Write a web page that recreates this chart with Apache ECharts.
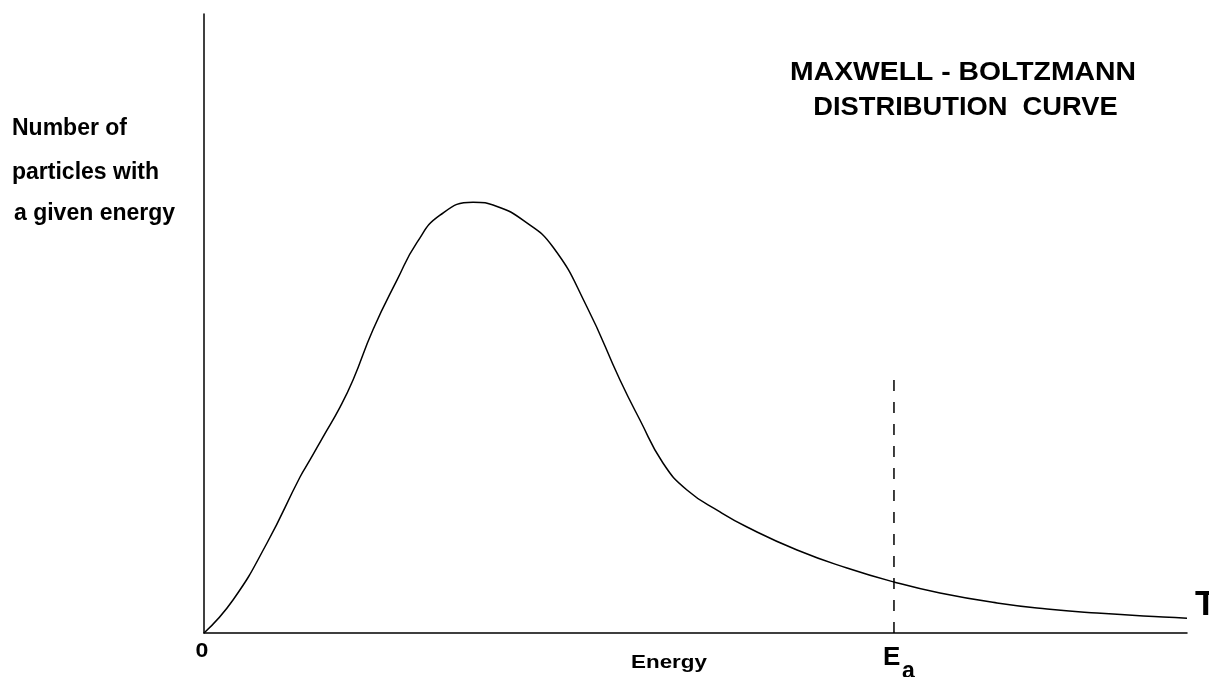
<!DOCTYPE html>
<html>
<head>
<meta charset="utf-8">
<script src="https://cdn.jsdelivr.net/npm/echarts@6/dist/echarts.min.js"></script>
<style>html,body{margin:0;padding:0;background:#fff}#c{width:1209px;height:677px}</style>
</head>
<body>
<div id="c"></div>
<script>
// Energy (x) and number of particles (y) (arbitrary units 0..100)
const energy = [0, 2.95, 6.41, 9.77, 10.78, 12.1, 13.84, 15.16, 17.19, 19.63, 21.67, 24.01, 27.37, 29.81, 32.45, 35.5, 38.96, 42.32, 44.35, 46.69, 49.13, 52.49, 55.24, 60.33, 65.41, 70.19, 74.87, 80.67, 85.76, 90.84, 97.56, 100];
const particles = [0, 5.33, 14.54, 25.2, 27.95, 31.66, 36.5, 40.87, 49.0, 57.0, 63.1, 67.5, 69.6, 68.9, 66.7, 62.36, 52.67, 40.87, 34.41, 27.46, 23.1, 19.55, 17.12, 13.41, 10.5, 8.24, 6.46, 4.85, 3.88, 3.23, 2.58, 2.4];
const eaX = [70.19, 70.19];
const eaY = [0, 40.87];

const F = 'Liberation Sans, Arial, Helvetica, sans-serif';
const chart = echarts.init(document.getElementById('c'), null, {renderer: 'canvas'});
chart.setOption({
  animation: false,
  backgroundColor: '#fff',
  grid: {left: 204, right: 22, top: 14, bottom: 44},
  xAxis: {type: 'value', min: 0, max: 100,
    axisLine: {show: true, onZero: false, lineStyle: {color: '#000', width: 1.5}},
    axisTick: {show: false}, axisLabel: {show: false}, splitLine: {show: false}},
  yAxis: {type: 'value', min: 0, max: 100,
    axisLine: {show: true, onZero: false, lineStyle: {color: '#000', width: 1.5}},
    axisTick: {show: false}, axisLabel: {show: false}, splitLine: {show: false}},
  series: [
    {type: 'line', data: energy.map((x, i) => [x, particles[i]]), smooth: 0.5, showSymbol: false,
      lineStyle: {color: '#000', width: 1.5}},
    {type: 'line', data: eaX.map((x, i) => [x, eaY[i]]), showSymbol: false,
      lineStyle: {color: '#000', width: 1.5, type: [11, 11]}}
  ],
  graphic: [
    {type: 'text', x: 12, y: 140.5, style: {text: 'Number of', font: 'bold 23px ' + F, fill: '#000', verticalAlign: 'bottom'}},
    {type: 'text', x: 12, y: 184.6, style: {text: 'particles with', font: 'bold 23px ' + F, fill: '#000', verticalAlign: 'bottom'}},
    {type: 'text', x: 14, y: 224.8, style: {text: 'a given energy', font: 'bold 23px ' + F, fill: '#000', verticalAlign: 'bottom'}},
    {type: 'text', x: 963, y: 73, scaleX: 1.09, style: {text: 'MAXWELL - BOLTZMANN', font: 'bold 26px ' + F, fill: '#000', align: 'center', verticalAlign: 'middle'}},
    {type: 'text', x: 965.5, y: 108, scaleX: 1.05, style: {text: 'DISTRIBUTION  CURVE', font: 'bold 26px ' + F, fill: '#000', align: 'center', verticalAlign: 'middle'}},
    {type: 'text', x: 202, y: 651, scaleX: 1.1, style: {text: '0', font: 'bold 21px ' + F, fill: '#000', align: 'center', verticalAlign: 'middle'}},
    {type: 'text', x: 669, y: 662.5, scaleX: 1.18, style: {text: 'Energy', font: 'bold 19px ' + F, fill: '#000', align: 'center', verticalAlign: 'middle'}},
    {type: 'text', x: 883, y: 658, style: {text: 'E', font: 'bold 26px ' + F, fill: '#000', verticalAlign: 'middle'}},
    {type: 'text', x: 902, y: 672, style: {text: 'a', font: 'bold 23px ' + F, fill: '#000', verticalAlign: 'middle'}},
    {type: 'text', x: 1195, y: 605, style: {text: 'T', font: 'bold 35px ' + F, fill: '#000', verticalAlign: 'middle'}}
  ]
});
</script>
</body>
</html>
